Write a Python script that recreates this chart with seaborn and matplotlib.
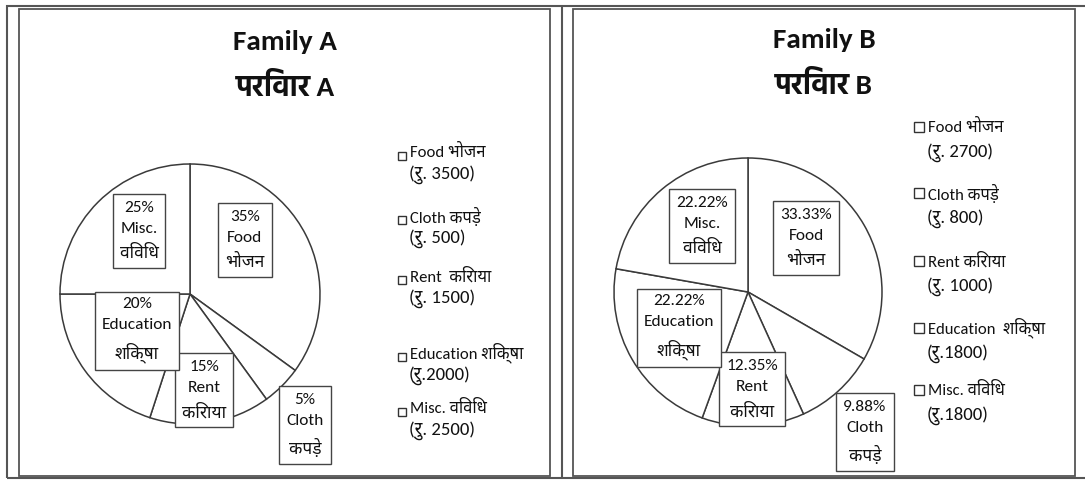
import numpy as np
import pandas as pd
import matplotlib
matplotlib.use("Agg")
import matplotlib.pyplot as plt
import seaborn as sns
from matplotlib import font_manager
from matplotlib.patches import Rectangle
from matplotlib.lines import Line2D

# ---------------- data ----------------
categories_en = ["Food", "Cloth", "Rent", "Education", "Misc."]
categories_hi = ["भोजन", "कपड़े", "किराया", "शिक्षा", "विविध"]
amounts_a = [3500, 500, 1500, 2000, 2500]
amounts_b = [2700, 800, 1000, 1800, 1800]
title_a = ["Family A", "परिवार A"]
title_b = ["Family B", "परिवार B"]
currency = "रु."

# ---------------- fonts ----------------
sns.set_theme(style="white")
ttf = font_manager.fontManager.ttflist
installed = {f.name for f in ttf}
fams = [f for f in ["Carlito", "Lato", "Noto Sans Devanagari", "DejaVu Sans"] if f in installed]
plt.rcParams["font.family"] = fams
pref_bold = ["Noto Sans Devanagari", "Hind", "Mukta", "Yantramanav", "Poppins"]
bold_deva = next((n for n in pref_bold
                  if any(f.name == n and f.weight in (700, "bold") for f in ttf)),
                 "Noto Sans Devanagari")
title_fams = [f for f in ["Carlito", "Lato"] if f in installed] + [bold_deva, "DejaVu Sans"]

W, H = 1085, 480
fig = plt.figure(figsize=(W / 100, H / 100), dpi=100)
fig.patch.set_facecolor("white")
ax = fig.add_axes([0, 0, 1, 1])

def Y(y):
    return H - y

edge = "#3a3a3a"
box_style = dict(boxstyle="square,pad=0.4", facecolor="white", edgecolor="#444444", linewidth=1.0)

panels = [
    dict(values=amounts_a, title=title_a, center=(190, 294), r=130, pct_fmt="{:.0f}%",
         title_x=285, title_y=(42, 86),
         label_off=[(55, 54), (115, -131), (14, -96), (-53, -36), (-51, 63)],
         leg_x=398, leg_y=[152, 216, 276, 353, 408], leg_dy=23, leg_sep=[" ", " ", " ", "", " "],
         leg_gap=["", "", " ", "", ""], sq_size=8, sq_dy=-4),
    dict(values=amounts_b, title=title_b, center=(748, 292), r=134, pct_fmt="{:.2f}%",
         title_x=824, title_y=(40, 84),
         label_off=[(58, 54), (117, -140), (4, -97), (-69, -35), (-46, 66)],
         leg_x=914, leg_y=[127, 193, 261, 328, 390], leg_dy=26, leg_sep=[" ", " ", " ", "", ""],
         leg_gap=["", "", "", " ", ""], sq_size=10, sq_dy=0),
]

for p in panels:
    vals = np.array(p["values"], dtype=float)
    cx, cy = p["center"]
    ax.pie(vals, center=(cx, Y(cy)), radius=p["r"], startangle=90, counterclock=False,
           colors=["white"] * len(vals),
           wedgeprops=dict(edgecolor=edge, linewidth=1.1))
    pct = vals / vals.sum() * 100
    for i, (en, hi) in enumerate(zip(categories_en, categories_hi)):
        dx, dy = p["label_off"][i]
        ax.text(cx + dx, Y(cy) + dy, f"{p['pct_fmt'].format(pct[i])}\n{en}\n{hi}",
                ha="center", va="center", fontsize=12.5, linespacing=1.65,
                color="#111111", bbox=box_style, zorder=5)
        # legend entry
        ly = p["leg_y"][i]
        s = p["sq_size"]
        ax.add_patch(Rectangle((p["leg_x"], Y(ly) + p["sq_dy"] - s / 2), s, s,
                               facecolor="white", edgecolor="#333333", linewidth=1.0))
        ax.text(p["leg_x"] + s + 4, Y(ly), f"{en} {p['leg_gap'][i]}{hi}", ha="left", va="center",
                fontsize=12, color="#111111")
        ax.text(p["leg_x"] + s + 3, Y(ly + p["leg_dy"]),
                f"({currency}{p['leg_sep'][i]}{int(vals[i])})", ha="left", va="center",
                fontsize=13.5, color="#111111")
    ax.text(p["title_x"], Y(p["title_y"][0]), p["title"][0], ha="center", va="center",
            fontsize=21, fontweight="bold", color="#111111", family=title_fams)
    ax.text(p["title_x"], Y(p["title_y"][1]), p["title"][1], ha="center", va="center",
            fontsize=21, fontweight="bold", color="#111111", family=title_fams)

# frames
fc = "#555555"
ax.add_patch(Rectangle((7, Y(478)), 1100, 472, fill=False, edgecolor=fc, linewidth=1.5))
ax.add_patch(Rectangle((19, Y(476)), 531, 467, fill=False, edgecolor=fc, linewidth=1.3))
ax.add_patch(Rectangle((573, Y(476)), 502, 467, fill=False, edgecolor=fc, linewidth=1.3))
ax.add_line(Line2D([562, 562], [Y(6), Y(478)], color=fc, linewidth=1.5))

ax.set_aspect("auto")
ax.set_xlim(0, W)
ax.set_ylim(0, H)
ax.axis("off")

fig.savefig("out.png", dpi=100, facecolor="white")
